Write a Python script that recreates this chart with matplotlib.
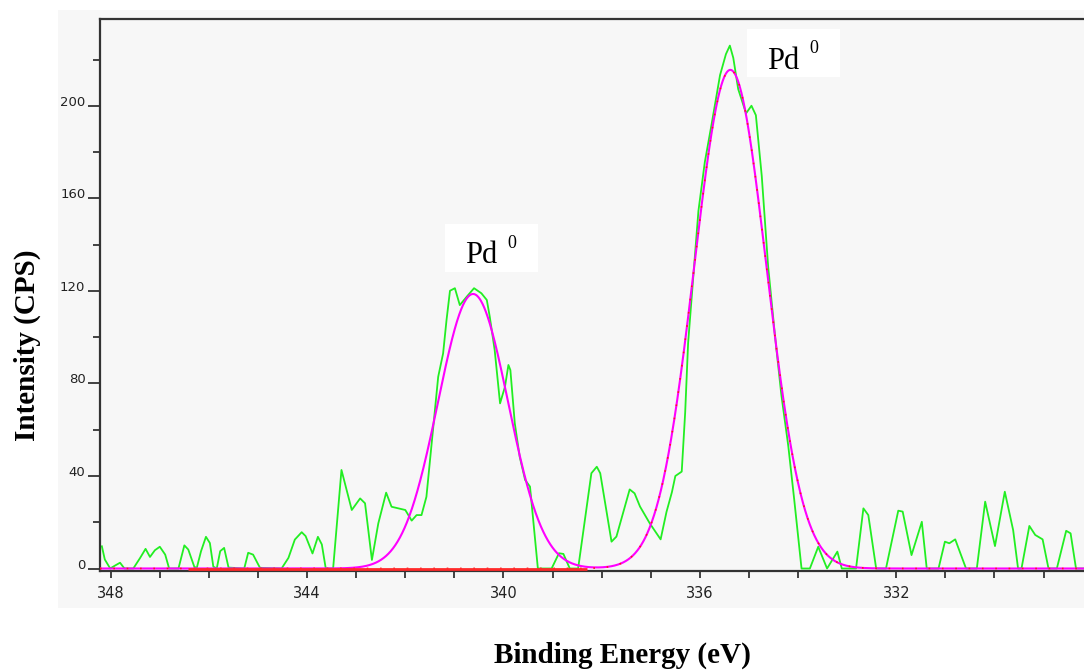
import numpy as np
import matplotlib
matplotlib.use("Agg")
import matplotlib.pyplot as plt
from matplotlib.patches import Rectangle
from matplotlib.ticker import MultipleLocator

# ---------------- data ----------------
binding_energy = [
    348.18, 348.12, 348.01, 347.91, 347.81, 347.72, 347.54, 347.40, 347.29, 347.20,
    347.10, 347.00, 346.89, 346.81, 346.62, 346.50, 346.42, 346.30, 346.25, 346.16,
    346.06, 345.98, 345.91, 345.84, 345.77, 345.69, 345.60, 345.28, 345.20, 345.10,
    344.96, 344.52, 344.38, 344.25, 344.11, 344.03, 343.89, 343.78, 343.70, 343.62,
    343.47, 343.30, 343.09, 342.92, 342.82, 342.68, 342.55, 342.39, 342.28, 342.00,
    341.87, 341.77, 341.67, 341.57, 341.43, 341.33, 341.23, 341.16, 341.09, 340.99,
    340.89, 340.75, 340.60, 340.45, 340.34, 340.28, 340.18, 340.07, 339.97, 339.90,
    339.86, 339.77, 339.67, 339.56, 339.46, 339.30, 339.02, 338.87, 338.78, 338.65,
    338.48, 338.21, 338.10, 338.03, 337.80, 337.70, 337.43, 337.33, 337.22, 337.02,
    336.80, 336.68, 336.57, 336.50, 336.37, 336.30, 336.24, 336.13, 336.03, 335.90,
    335.76, 335.59, 335.47, 335.39, 335.32, 335.22, 335.06, 334.95, 334.86, 334.74,
    334.61, 334.47, 334.34, 334.20, 334.08, 333.93, 333.76, 333.59, 333.41, 333.20,
    333.11, 332.82, 332.67, 332.57, 332.41, 332.21, 331.96, 331.87, 331.69, 331.48,
    331.38, 331.14, 331.01, 330.92, 330.80, 330.58, 330.36, 330.19, 329.99, 329.79,
    329.62, 329.52, 329.45, 329.29, 329.17, 329.02, 328.90, 328.73, 328.54, 328.45,
    328.34, 328.17,
]
intensity_cps = [
    9.6, 3.9, 0.0, 1.3, 2.5, 0.0, 0.0, 4.6, 8.5, 5.0,
    7.9, 9.4, 6.0, 0.0, 0.0, 10.0, 8.2, 0.9, 0.0, 7.5,
    13.7, 11.0, 0.8, 0.0, 7.5, 8.9, 0.4, 0.0, 6.8, 6.0,
    0.3, 0.0, 4.6, 12.5, 15.7, 14.0, 6.5, 13.7, 10.4, 0.0,
    0.0, 42.6, 25.3, 30.3, 28.2, 3.7, 19.5, 32.8, 26.7, 25.3,
    20.7, 23.1, 23.1, 31.0, 61.3, 82.9, 93.0, 107.5, 120.1, 121.2,
    113.9, 117.5, 121.2, 119.0, 116.1, 108.9, 94.5, 71.4, 78.6, 88.0,
    85.8, 62.8, 48.3, 38.3, 35.4, 0.0, 0.0, 6.6, 6.3, 0.0,
    0.0, 41.2, 44.0, 41.2, 11.6, 13.8, 34.2, 32.5, 26.8, 19.5,
    12.6, 24.5, 33.0, 40.0, 41.9, 67.4, 97.5, 127.6, 154.6, 175.7,
    192.3, 213.3, 222.4, 226.1, 220.8, 207.3, 196.8, 200.1, 196.0, 169.7,
    130.6, 100.5, 74.9, 53.0, 30.0, 0.0, 0.0, 9.4, 0.0, 7.3,
    0.0, 0.0, 26.0, 23.1, 0.0, 0.0, 25.0, 24.6, 5.8, 20.2,
    0.0, 0.0, 11.6, 10.9, 12.6, 0.0, 0.0, 28.9, 9.7, 33.2,
    16.6, 0.0, 0.0, 18.4, 14.5, 12.6, 0.0, 0.0, 16.3, 15.2,
    0.0, 0.0,
]

# fitted Pd 3d components (Gaussian): centre (eV), height (CPS), FWHM (eV)
fit_centers = [340.62, 335.38]
fit_heights = [118.7, 215.6]
fit_fwhm = [1.68, 1.73]

# red background segment (eV range)
baseline_start = 346.42
baseline_end = 338.30

x_major_ticks = [348, 344, 340, 336, 332]
y_major_ticks = [0, 40, 80, 120, 160, 200]
peak_label = "Pd"
peak_sup = "0"

# ---------------- figure ----------------
W, H = 1084, 672
fig = plt.figure(figsize=(W / 100, H / 100), dpi=100)

def fx(px):
    return px / W

def fy(py):
    return 1 - py / H

# light grey panel behind the plot
fig.patches.append(Rectangle((fx(58), fy(608)), fx(W - 58), (608 - 10) / H,
                             transform=fig.transFigure, facecolor="#f7f7f7",
                             edgecolor="none", zorder=-1))

ax = fig.add_axes([fx(100), fy(571), (W - 100) / W, (571 - 19) / H])
ax.set_facecolor("#f7f7f7")
ax.set_xlim(348.218, 328.177)
ax.set_ylim(-1.08, 237.6)

# data
ax.plot(binding_energy, intensity_cps, color="#22ee22", lw=1.3, zorder=2)

# fit envelope
xx = np.linspace(348.218, 328.177, 3000)
comps = []
for c, h, w in zip(fit_centers, fit_heights, fit_fwhm):
    s = w / 2.3548
    comps.append(h * np.exp(-0.5 * ((xx - c) / s) ** 2))
env = np.sum(comps, axis=0)
ax.plot(xx, env, color="#ff00ff", lw=1.5, zorder=3)
# red component under the larger peak shows as red dots
ax.plot(xx, comps[1], color="#ff1a1a", lw=1.2, ls=(0, (1, 7)), zorder=4)

# baseline
ax.plot([baseline_start, baseline_end], [0, 0], color="#ff2a2a", lw=2.0,
        zorder=4, solid_capstyle="butt")

# spines
for side in ["left", "top", "bottom"]:
    ax.spines[side].set_color("#333333")
    ax.spines[side].set_linewidth(1.6)
ax.spines["right"].set_visible(False)

ax.set_xticks(x_major_ticks)
ax.xaxis.set_minor_locator(MultipleLocator(1))
ax.set_yticks(y_major_ticks)
ax.yaxis.set_minor_locator(MultipleLocator(20))
ax.tick_params(axis="x", which="both", direction="out", length=5, width=1.3,
               color="#333333", labelsize=10.5, pad=6, labelcolor="#222222")
ax.tick_params(axis="y", which="major", direction="out", length=9, width=1.3,
               color="#333333", labelsize=9.5, pad=1.5, labelcolor="#222222")
ax.tick_params(axis="y", which="minor", direction="out", length=5, width=1.3,
               color="#333333")
for lab in ax.get_yticklabels():
    lab.set_verticalalignment("baseline")

# axis titles
fig.text(fx(622), fy(655), "Binding Energy (eV)", ha="center", va="center",
         fontsize=21, fontweight="bold", family="Liberation Serif")
fig.text(fx(27), fy(345), "Intensity (CPS)", ha="center", va="center",
         rotation=90, fontsize=21, fontweight="bold", family="Liberation Serif")

# peak labels
def peak_box(x0, y0, x1, y1, tx, ty, sx, sy):
    fig.patches.append(Rectangle((fx(x0), fy(y1)), (x1 - x0) / W, (y1 - y0) / H,
                                 transform=fig.transFigure, facecolor="white",
                                 edgecolor="none", zorder=5))
    fig.text(fx(tx), fy(ty), peak_label, ha="left", va="baseline", fontsize=22,
             family="Liberation Serif", zorder=6)
    fig.text(fx(sx), fy(sy), peak_sup, ha="left", va="baseline", fontsize=13,
             family="Liberation Serif", zorder=6)

peak_box(445, 224, 538, 272, 465, 263, 507, 248)
peak_box(747, 29, 840, 77, 767, 69, 809, 53)

fig.savefig("out.png", dpi=100)
